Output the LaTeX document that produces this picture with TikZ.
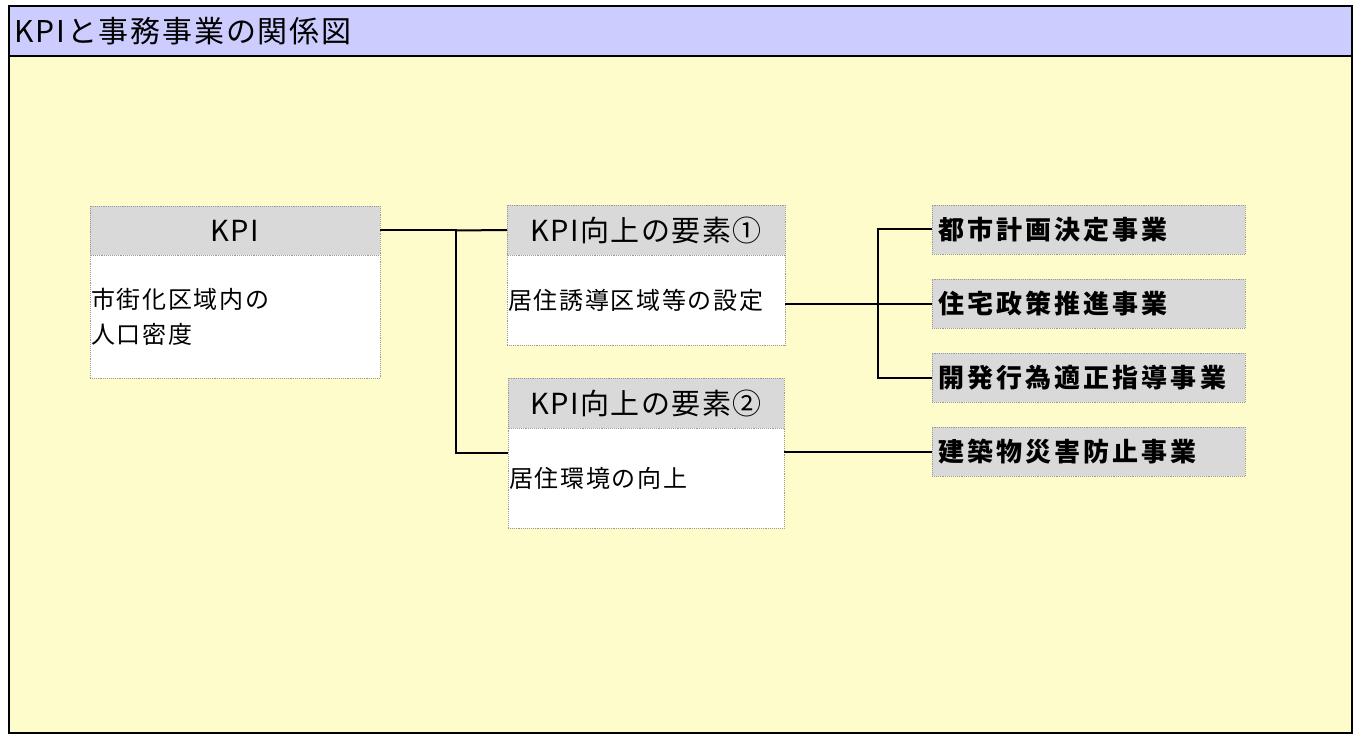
\documentclass[tikz,border=0pt]{standalone}
\usepackage{fontspec}
\setmainfont{Noto Sans CJK JP}
\newfontfamily\hdfont[LetterSpace=5]{Noto Sans CJK JP}
\newfontfamily\ttlfont[LetterSpace=6]{Noto Sans CJK JP}
\newfontfamily\bdfont[LetterSpace=7]{Noto Sans CJK JP}
\newfontfamily\bzfont[LetterSpace=12]{Noto Sans CJK JP}
\begin{document}
\begin{tikzpicture}[x=1pt,y=-1pt,
  box/.style={draw=gray!80, densely dotted, line width=0.9pt, inner sep=0pt, outer sep=0pt, anchor=north west},
  head/.style={box, fill=gray!30, align=center, font=\hdfont\fontsize{29}{33}\selectfont},
  body/.style={box, fill=white, align=left, text width=#1, font=\bdfont\fontsize{24}{35}\selectfont},
  biz/.style={box, fill=gray!30, align=left, font=\bzfont\fontsize{26}{30}\selectfont\bfseries, text width=313pt, minimum height=49pt},
  conn/.style={draw=black, line width=2pt}]
\useasboundingbox (0,0) rectangle (1355,738);
\fill[yellow!20] (9,6) rectangle (1352,733);
\fill[blue!20] (9,6) rectangle (1352,56);
\draw[line width=1.6pt] (9,56) -- (1352,56);
\draw[line width=1.6pt] (9,6) rectangle (1352,733);
\node[anchor=west, font=\ttlfont\fontsize{30}{34}\selectfont] (title) at (11,31) {KPIと事務事業の関係図};
% KPI
\node[head, minimum width=290pt, minimum height=49pt] (kpih) at (90,206) {KPI};
\node[body=290pt, minimum height=123pt] (kpib) at (90,255) {\hspace*{1pt}市街化区域内の\\\hspace*{1pt}人口密度};
% element 1
\node[head, minimum width=278pt, minimum height=50pt] (e1h) at (507,205) {KPI向上の要素①};
\node[body=278pt, minimum height=90pt] (e1b) at (507,255) {\hspace*{1pt}居住誘導区域等の設定};
% element 2
\node[head, minimum width=276pt, minimum height=50pt] (e2h) at (508,378) {KPI向上の要素②};
\node[body=276pt, minimum height=100pt] (e2b) at (508,428) {\hspace*{1pt}居住環境の向上};
% businesses
\node[biz] (b1) at (932,205) {\hspace*{6pt}都市計画決定事業};
\node[biz] (b2) at (932,279) {\hspace*{6pt}住宅政策推進事業};
\node[biz] (b3) at (932,353) {\hspace*{6pt}開発行為適正指導事業};
\node[biz] (b4) at (932,427) {\hspace*{6pt}建築物災害防止事業};
% connectors
\coordinate (j1) at (456,0);
\coordinate (j2) at (878,0);
\coordinate (e2in) at (508,453);
\draw[conn] (kpih.east) -- (kpih.east -| j1) |- (e2in);
\draw[conn] (kpih.east -| j1) -- (e1h.west);
\draw[conn] (e1b.east |- b2.west) -- (b2.west);
\draw[conn] (b1.west) -- (b1.west -| j2) |- (b3.west);
\draw[conn] (e2b.east |- b4.west) -- (b4.west);
\end{tikzpicture}
\end{document}
